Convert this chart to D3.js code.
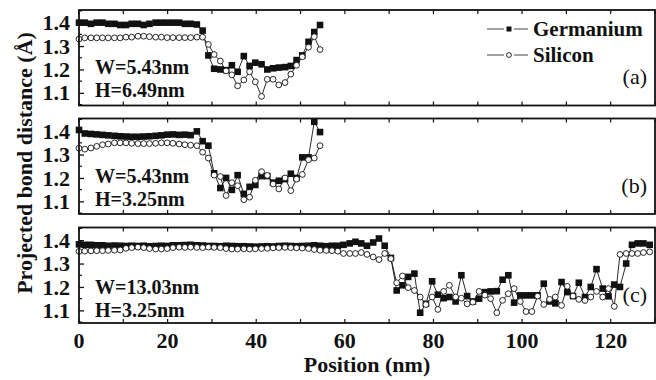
<!DOCTYPE html>
<html>
<head>
<meta charset="utf-8">
<script src="https://cdn.jsdelivr.net/npm/d3@7"></script>
<style>
  body { margin: 0; background: #fff; }
  text { font-family: "Liberation Serif", "Times New Roman", serif; fill: #111; }
</style>
</head>
<body>
<svg id="chart" width="656" height="380"></svg>
<script>
// sample positions along the wire (nm)
var posC = [0,1.3,2.7,4.0,5.3,6.6,8.0,9.3,10.6,11.9,
  13.3,14.6,15.9,17.3,18.6,19.9,21.2,22.6,23.9,25.2,
  26.6,27.9,29.2,30.5,31.9,33.2,34.5,35.8,37.2,38.5,
  39.8,41.2,42.5,43.8,45.1,46.5,47.8,49.1,50.4,51.8,
  53.1,54.4,55.8,57.1,58.4,59.7,61.1,62.4,63.7,65.0,
  66.4,67.7,69.0,70.4,71.7,73.0,74.3,75.7,77.0,78.3,
  79.7,81.0,82.3,83.6,85.0,86.3,87.6,88.9,90.3,91.6,
  92.9,94.3,95.6,96.9,98.2,99.6,100.9,102.2,103.5,104.9,
  106.2,107.5,108.9,110.2,111.5,112.8,114.2,115.5,116.8,118.2,
  119.5,120.8,122.1,123.5,124.8,126.1,127.4,128.8];
var posAB = posC.slice(0, 42);

// (a) W=5.43nm H=6.49nm
var geA = [1.40,1.40,1.395,1.40,1.40,1.395,1.395,1.39,1.39,1.395,
  1.395,1.39,1.395,1.40,1.40,1.40,1.40,1.40,1.395,1.395,
  1.392,1.366,1.26,1.203,1.20,1.197,1.218,1.19,1.257,1.215,
  1.229,1.222,1.20,1.205,1.208,1.21,1.215,1.24,1.26,1.318,
  1.36,1.39];
var siA = [1.33,1.335,1.335,1.335,1.335,1.335,1.335,1.335,1.338,1.338,
  1.342,1.342,1.34,1.338,1.338,1.336,1.336,1.336,1.336,1.336,
  1.338,1.338,1.307,1.264,1.236,1.194,1.177,1.13,1.155,1.19,
  1.147,1.085,1.158,1.158,1.134,1.144,1.18,1.218,1.254,1.295,
  1.34,1.285];

// (b) W=5.43nm H=3.25nm
var geB = [1.405,1.39,1.388,1.386,1.384,1.382,1.38,1.378,1.377,1.376,
  1.376,1.377,1.378,1.38,1.382,1.385,1.386,1.384,1.385,1.383,
  1.399,1.357,1.338,1.22,1.157,1.20,1.149,1.212,1.132,1.162,
  1.17,1.208,1.208,1.18,1.188,1.195,1.218,1.20,1.288,1.288,
  1.44,1.396];
var siB = [1.327,1.323,1.328,1.335,1.342,1.345,1.35,1.35,1.35,1.348,
  1.347,1.347,1.347,1.348,1.35,1.35,1.348,1.345,1.342,1.34,
  1.338,1.31,1.285,1.212,1.206,1.125,1.18,1.167,1.107,1.118,
  1.19,1.227,1.211,1.174,1.153,1.20,1.146,1.195,1.215,1.278,
  1.285,1.338];

// (c) W=13.03nm H=3.25nm
var geC = [1.382,1.38,1.38,1.378,1.378,1.376,1.377,1.376,1.375,1.376,
  1.375,1.376,1.374,1.375,1.376,1.375,1.378,1.378,1.379,1.38,
  1.378,1.377,1.375,1.375,1.374,1.376,1.375,1.374,1.374,1.373,
  1.372,1.373,1.374,1.373,1.375,1.376,1.375,1.374,1.375,1.376,
  1.378,1.376,1.374,1.376,1.376,1.38,1.386,1.393,1.386,1.376,
  1.39,1.407,1.376,1.324,1.185,1.207,1.243,1.257,1.09,1.128,
  1.224,1.167,1.152,1.157,1.138,1.25,1.161,1.138,1.15,1.178,
  1.181,1.182,1.231,1.25,1.133,1.164,1.164,1.164,1.164,1.214,
  1.138,1.13,1.221,1.178,1.161,1.218,1.157,1.20,1.276,1.193,
  1.16,1.21,1.20,1.30,1.38,1.386,1.386,1.38];
var siC = [1.352,1.353,1.354,1.355,1.355,1.356,1.357,1.358,1.365,1.368,
  1.37,1.368,1.364,1.362,1.362,1.364,1.368,1.37,1.369,1.37,
  1.369,1.368,1.37,1.369,1.368,1.364,1.362,1.362,1.363,1.362,
  1.363,1.364,1.365,1.367,1.368,1.369,1.368,1.367,1.366,1.364,
  1.36,1.357,1.356,1.355,1.353,1.343,1.343,1.343,1.347,1.339,
  1.328,1.317,1.343,1.321,1.218,1.247,1.197,1.185,1.157,1.125,
  1.157,1.104,1.181,1.207,1.157,1.152,1.128,1.135,1.181,1.165,
  1.15,1.09,1.143,1.171,1.193,1.138,1.095,1.095,1.161,1.125,
  1.147,1.157,1.121,1.203,1.161,1.147,1.142,1.157,1.181,1.157,
  1.193,1.117,1.339,1.343,1.343,1.343,1.347,1.35];

var panelNames = ["(a)", "(b)", "(c)"]
  , widthLabels = ["W=5.43nm", "W=5.43nm", "W=13.03nm"]
  , heightLabels = ["H=6.49nm", "H=3.25nm", "H=3.25nm"]
  , seriesNames = ["Germanium", "Silicon"]
  , yTicks = [1.1, 1.2, 1.3, 1.4]
  , yMinorTicks = [1.05, 1.15, 1.25, 1.35, 1.45]
  , xTicks = [0, 20, 40, 60, 80, 100, 120]
  , xMinorTicks = [10, 30, 50, 70, 90, 110, 130];

var panelData = [
  { ge: geA, si: siA, pos: posAB },
  { ge: geB, si: siB, pos: posAB },
  { ge: geC, si: siC, pos: posC }
];

function drawChart(){
  var left = 79
    , right = 655
    , panel_tops = [10, 118.5, 227.5]
    , panel_height = 95.5
    , label_shift = [0, 0, 2.5] // W/H text sits a little lower in (c)
    , sq = 6.6 // square marker side
    , cr = 2.9; // circle marker radius

  var svg = d3.select("#chart");

  var x = d3.scaleLinear().domain([0, 130]).range([left, right]);

  panelData.forEach(function(p, i){
    var top = panel_tops[i]
      , bottom = top + panel_height;

    var y = d3.scaleLinear().domain([1.046, 1.454]).range([bottom, top]);

    var g = svg.append("g").attr("class", "panel").attr("id", "panel-" + i);

    // y axis, ticks inward
    var yAxis = g.append("g")
      .attr("transform", "translate(" + left + ",0)")
      .call(d3.axisLeft(y).tickValues(yTicks).tickSizeInner(-5).tickSizeOuter(0)
        .tickPadding(9).tickFormat(d3.format(".1f")));
    yAxis.select(".domain").remove();
    yAxis.selectAll("text")
      .style("font-size", "22px").style("font-weight", "bold")
      .style("font-family", "'Liberation Serif', serif");
    yAxis.selectAll("line").attr("stroke", "#111").attr("stroke-width", 1.3);

    g.selectAll(".yminor")
      .data(yMinorTicks)
     .enter().append("line")
      .attr("x1", left).attr("x2", left + 3)
      .attr("y1", d => y(d)).attr("y2", d => y(d))
      .attr("stroke", "#111").attr("stroke-width", 1.2);

    // x ticks on bottom and top edges
    var allX = xTicks.concat(xMinorTicks);
    [bottom, top].forEach(function(edge, k){
      g.selectAll(".xt" + k)
        .data(allX)
       .enter().append("line")
        .attr("x1", d => x(d)).attr("x2", d => x(d))
        .attr("y1", edge).attr("y2", k == 0 ? edge - 4 : edge + 4)
        .attr("stroke", "#111").attr("stroke-width", 1.2);
    });

    // connecting lines
    var line = d3.line().x(d => x(d[0])).y(d => y(d[1]));
    var ge = d3.zip(p.pos, p.ge)
      , si = d3.zip(p.pos, p.si);

    g.append("path").attr("d", line(ge))
      .attr("fill", "none").attr("stroke", "#111").attr("stroke-width", 0.9);
    g.append("path").attr("d", line(si))
      .attr("fill", "none").attr("stroke", "#111").attr("stroke-width", 0.9);

    g.selectAll(".ge")
      .data(ge)
     .enter().append("rect")
      .attr("x", d => x(d[0]) - sq/2).attr("y", d => y(d[1]) - sq/2)
      .attr("width", sq).attr("height", sq)
      .attr("fill", "#111");

    g.selectAll(".si")
      .data(si)
     .enter().append("circle")
      .attr("cx", d => x(d[0])).attr("cy", d => y(d[1])).attr("r", cr)
      .attr("fill", "#fff").attr("stroke", "#111").attr("stroke-width", 0.9);

    // frame
    g.append("rect")
      .attr("x", left).attr("y", top)
      .attr("width", right - left).attr("height", panel_height)
      .attr("fill", "none").attr("stroke", "#111").attr("stroke-width", 1.8);

    // W / H labels
    g.append("text").attr("x", 95).attr("y", top + 64 + label_shift[i])
      .style("font-size", "20px").style("font-weight", "bold")
      .text(widthLabels[i]);
    g.append("text").attr("x", 95).attr("y", top + 87 + label_shift[i])
      .style("font-size", "20px").style("font-weight", "bold")
      .text(heightLabels[i]);

    // panel name
    g.append("text").attr("x", 647).attr("y", top + 74)
      .attr("text-anchor", "end")
      .style("font-size", "22px")
      .text(panelNames[i]);

    // x axis labels on last panel
    if (i == panelData.length - 1){
      g.selectAll(".xlab")
        .data(xTicks)
       .enter().append("text")
        .attr("x", d => x(d)).attr("y", bottom + 25)
        .attr("text-anchor", "middle")
        .style("font-size", "22px").style("font-weight", "bold")
        .text(d => d);
    }
  });

  // legend in panel (a)
  var legend = svg.append("g").attr("class", "legend");
  var legRows = [29, 55];
  seriesNames.forEach(function(name, k){
    var ly = legRows[k];
    // two short dashes either side of the marker
    [[487, 504], [514, 528]].forEach(function(seg){
      legend.append("line")
        .attr("x1", seg[0]).attr("x2", seg[1]).attr("y1", ly).attr("y2", ly)
        .attr("stroke", "#444").attr("stroke-width", 1);
    });
    if (k == 0){
      legend.append("rect").attr("x", 506.5).attr("y", ly - 2.5)
        .attr("width", 5).attr("height", 5).attr("fill", "#111");
    } else {
      legend.append("circle").attr("cx", 509).attr("cy", ly).attr("r", 2.4)
        .attr("fill", "#fff").attr("stroke", "#111").attr("stroke-width", 0.9);
    }
    legend.append("text").attr("x", 533).attr("y", ly + 7)
      .style("font-size", "21px").style("font-weight", "bold")
      .text(name);
  });

  // axis titles
  svg.append("text")
    .attr("x", (left + right) / 2).attr("y", 372)
    .attr("text-anchor", "middle")
    .style("font-size", "22px").style("font-weight", "bold")
    .text("Position (nm)");

  svg.append("text")
    .attr("transform", "translate(32,163) rotate(-90)")
    .attr("text-anchor", "middle")
    .style("font-size", "22px").style("font-weight", "bold")
    .text("Projected bond distance (Å)");
}

drawChart();
</script>
</body>
</html>
